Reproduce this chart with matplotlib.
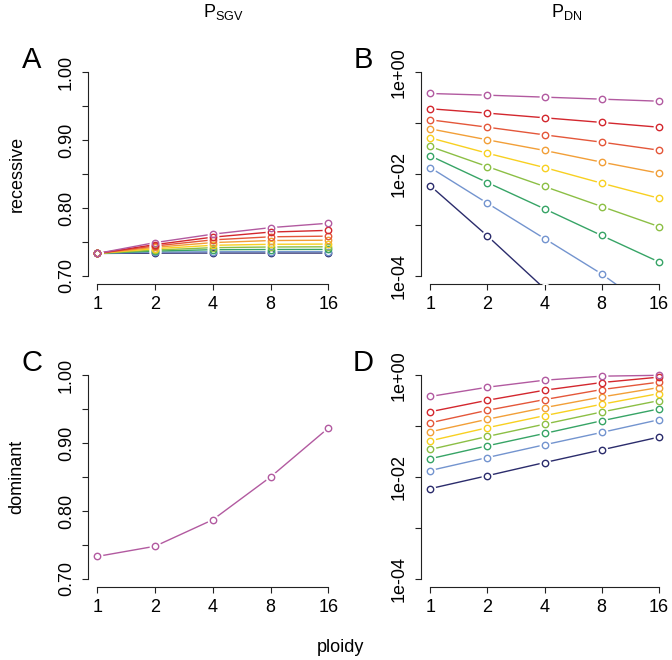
import numpy as np
import matplotlib.pyplot as plt

plt.rcParams['font.family'] = ['Liberation Sans', 'DejaVu Sans']

# ploidy levels on the x axis
ploidy = [1, 2, 4, 8, 16]

# series colours, bottom (navy) to top (purple)
colours = ['#2b2c6c', '#7394cf', '#37a466', '#8cbf45', '#f8d021',
           '#f29f38', '#e4573a', '#d3272e', '#b25aa0']

# P_SGV, recessive (panel A)
sgv_recessive = [
    [0.733, 0.7335, 0.7336, 0.7336, 0.7336],
    [0.733, 0.7350, 0.7355, 0.7356, 0.7356],
    [0.733, 0.7365, 0.7385, 0.7388, 0.7389],
    [0.733, 0.7380, 0.7415, 0.7425, 0.7428],
    [0.733, 0.7400, 0.7450, 0.7465, 0.7468],
    [0.733, 0.7420, 0.7490, 0.7520, 0.7525],
    [0.733, 0.7440, 0.7530, 0.7575, 0.7585],
    [0.733, 0.7460, 0.7570, 0.7645, 0.7670],
    [0.733, 0.7490, 0.7614, 0.7710, 0.7775],
]

# P_SGV, dominant (panel C)
sgv_dominant = [0.733, 0.748, 0.787, 0.850, 0.922]

# P_DN, recessive (panel B)
dn_recessive = [
    [0.0059, 0.00061, 0.000056, 6e-6, 8e-7],
    [0.0134, 0.00267, 0.00054, 0.000109, 0.000017],
    [0.0228, 0.0068, 0.00207, 0.00062, 0.000188],
    [0.0347, 0.0140, 0.00569, 0.00230, 0.00093],
    [0.0513, 0.0256, 0.0134, 0.0066, 0.00335],
    [0.0771, 0.0469, 0.0290, 0.0171, 0.0104],
    [0.116, 0.083, 0.0587, 0.0422, 0.0294],
    [0.191, 0.157, 0.127, 0.103, 0.083],
    [0.381, 0.353, 0.323, 0.295, 0.269],
]

# P_DN, dominant (panel D)
dn_dominant = [
    [0.0059, 0.0106, 0.0192, 0.0341, 0.0607],
    [0.0134, 0.0241, 0.0429, 0.075, 0.133],
    [0.0228, 0.0409, 0.0716, 0.127, 0.217],
    [0.0347, 0.0625, 0.109, 0.189, 0.316],
    [0.0513, 0.0927, 0.160, 0.268, 0.435],
    [0.0771, 0.136, 0.230, 0.373, 0.571],
    [0.116, 0.204, 0.331, 0.521, 0.728],
    [0.191, 0.321, 0.506, 0.716, 0.914],
    [0.381, 0.579, 0.796, 0.955, 0.993],
]

lin_ticks = [0.70, 0.75, 0.80, 0.85, 0.90, 0.95, 1.00]
lin_labels = ['0.70', '', '0.80', '', '0.90', '', '1.00']
log_ticks = [1e-4, 1e-3, 1e-2, 1e-1, 1e0]
log_labels = ['1e-04', '', '1e-02', '', '1e+00']

FS = 13


def draw_series(ax, series, cols):
    # R-style type="b": lines, white gaps round the points, open circles
    for y, c in zip(series, cols):
        ax.plot(ploidy, y, color=c, lw=1.0, zorder=2)
    for y in series:
        ax.plot(ploidy, y, ls='none', marker='o', ms=8.5, mfc='white',
                mec='white', mew=0, zorder=3)
    for y, c in zip(series, cols):
        ax.plot(ploidy, y, ls='none', marker='o', ms=4.6, mfc='none',
                mec=c, mew=1.0, zorder=4)


def style_axes(ax, log_y):
    ax.set_xscale('log', base=2)
    ax.set_xlim(2 ** -0.16, 2 ** 4.16)
    ax.set_xticks(ploidy)
    ax.set_xticklabels([str(p) for p in ploidy])
    ax.xaxis.set_minor_locator(plt.NullLocator())
    if log_y:
        ax.set_yscale('log')
        ax.set_ylim(10 ** -4.16, 10 ** 0.16)
        ax.set_yticks(log_ticks)
        ax.set_yticklabels(log_labels)
        ax.spines['left'].set_bounds(1e-4, 1)
    else:
        ax.set_ylim(0.688, 1.012)
        ax.set_yticks(lin_ticks)
        ax.set_yticklabels(lin_labels)
        ax.spines['left'].set_bounds(0.70, 1.00)
    ax.yaxis.set_minor_locator(plt.NullLocator())
    ax.spines['bottom'].set_bounds(1, 16)
    for s in ['top', 'right']:
        ax.spines[s].set_visible(False)
    for s in ['left', 'bottom']:
        ax.spines[s].set_linewidth(0.8)
        ax.spines[s].set_color('#222222')
    ax.tick_params(direction='out', length=4.3, width=0.8, color='#222222',
                   labelsize=FS)
    ax.tick_params(axis='x', pad=4)
    ax.tick_params(axis='y', pad=5)
    for lab in ax.get_yticklabels():
        lab.set_rotation(90)
        lab.set_va('center')
    ax.patch.set_visible(False)


fig = plt.figure(figsize=(6.72, 6.6), dpi=100)

left_a, left_b = 88 / 672, 421 / 672
width_a, width_b = 249.5 / 672, 247 / 672
bottom_top, bottom_low = (660 - 284) / 660, (660 - 587) / 660
height = 220 / 660

axA = fig.add_axes([left_a, bottom_top, width_a, height])
axB = fig.add_axes([left_b, bottom_top, width_b, height])
axC = fig.add_axes([left_a, bottom_low, width_a, height])
axD = fig.add_axes([left_b, bottom_low, width_b, height])

draw_series(axA, sgv_recessive, colours)
draw_series(axB, dn_recessive, colours)
draw_series(axC, [sgv_dominant], [colours[-1]])
draw_series(axD, dn_dominant, colours)

style_axes(axA, False)
style_axes(axB, True)
style_axes(axC, False)
style_axes(axD, True)

# panel letters
for lab, x, y in [('A', 32, 60), ('B', 363, 60), ('C', 32, 363), ('D', 363, 363)]:
    fig.text(x / 672, 1 - y / 660, lab, fontsize=21, ha='center', va='center')

# column titles
fig.text(223 / 672, 1 - 12 / 660, r'P$_{\mathregular{SGV}}$', fontsize=FS,
         ha='center', va='center')
fig.text(567 / 672, 1 - 12 / 660, r'P$_{\mathregular{DN}}$', fontsize=FS,
         ha='center', va='center')

# row labels and x label
fig.text(17 / 672, 1 - 174 / 660, 'recessive', fontsize=FS, rotation=90,
         ha='center', va='center')
fig.text(17 / 672, 1 - 477 / 660, 'dominant', fontsize=FS, rotation=90,
         ha='center', va='center')
fig.text(340 / 672, 1 - 648 / 660, 'ploidy', fontsize=FS,
         ha='center', va='center')

fig.savefig('out.png', dpi=100)
